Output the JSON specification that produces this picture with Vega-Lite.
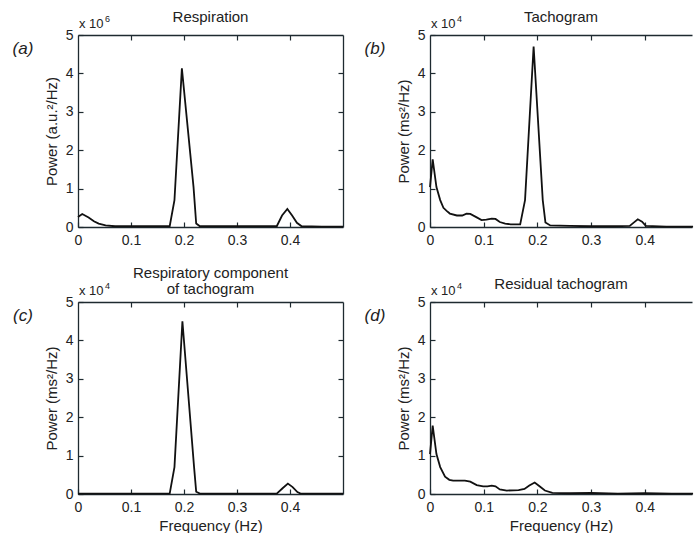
{
  "$schema": "https://vega.github.io/schema/vega-lite/v6.json",
  "background": "white",
  "padding": {"left": 12, "top": 10, "right": 0, "bottom": 0},
  "datasets": {
    "curves": [
      {"panel": "a", "f": 0, "p": 0.26}, {"panel": "a", "f": 0.008, "p": 0.34}, {"panel": "a", "f": 0.02, "p": 0.25}, {"panel": "a", "f": 0.03, "p": 0.15}, {"panel": "a", "f": 0.039, "p": 0.09}, {"panel": "a", "f": 0.052, "p": 0.04}, {"panel": "a", "f": 0.07, "p": 0.02}, {"panel": "a", "f": 0.1, "p": 0.02}, {"panel": "a", "f": 0.13, "p": 0.02}, {"panel": "a", "f": 0.16, "p": 0.02}, {"panel": "a", "f": 0.173, "p": 0.02}, {"panel": "a", "f": 0.182, "p": 0.7}, {"panel": "a", "f": 0.196, "p": 4.13}, {"panel": "a", "f": 0.218, "p": 1.04}, {"panel": "a", "f": 0.223, "p": 0.09}, {"panel": "a", "f": 0.23, "p": 0.02}, {"panel": "a", "f": 0.28, "p": 0.02}, {"panel": "a", "f": 0.33, "p": 0.02}, {"panel": "a", "f": 0.375, "p": 0.02}, {"panel": "a", "f": 0.385, "p": 0.3}, {"panel": "a", "f": 0.395, "p": 0.47}, {"panel": "a", "f": 0.404, "p": 0.3}, {"panel": "a", "f": 0.413, "p": 0.11}, {"panel": "a", "f": 0.422, "p": 0.02}, {"panel": "a", "f": 0.46, "p": 0.01}, {"panel": "a", "f": 0.5, "p": 0.01},
      {"panel": "b", "f": 0, "p": 1.04}, {"panel": "b", "f": 0.005, "p": 1.76}, {"panel": "b", "f": 0.012, "p": 1.04}, {"panel": "b", "f": 0.019, "p": 0.7}, {"panel": "b", "f": 0.025, "p": 0.5}, {"panel": "b", "f": 0.031, "p": 0.42}, {"panel": "b", "f": 0.037, "p": 0.35}, {"panel": "b", "f": 0.05, "p": 0.3}, {"panel": "b", "f": 0.06, "p": 0.3}, {"panel": "b", "f": 0.068, "p": 0.35}, {"panel": "b", "f": 0.075, "p": 0.34}, {"panel": "b", "f": 0.087, "p": 0.25}, {"panel": "b", "f": 0.096, "p": 0.18}, {"panel": "b", "f": 0.105, "p": 0.19}, {"panel": "b", "f": 0.115, "p": 0.22}, {"panel": "b", "f": 0.122, "p": 0.21}, {"panel": "b", "f": 0.13, "p": 0.13}, {"panel": "b", "f": 0.14, "p": 0.09}, {"panel": "b", "f": 0.15, "p": 0.07}, {"panel": "b", "f": 0.168, "p": 0.07}, {"panel": "b", "f": 0.177, "p": 0.7}, {"panel": "b", "f": 0.193, "p": 4.7}, {"panel": "b", "f": 0.21, "p": 0.7}, {"panel": "b", "f": 0.215, "p": 0.12}, {"panel": "b", "f": 0.224, "p": 0.04}, {"panel": "b", "f": 0.26, "p": 0.03}, {"panel": "b", "f": 0.3, "p": 0.02}, {"panel": "b", "f": 0.34, "p": 0.02}, {"panel": "b", "f": 0.372, "p": 0.03}, {"panel": "b", "f": 0.38, "p": 0.12}, {"panel": "b", "f": 0.387, "p": 0.2}, {"panel": "b", "f": 0.395, "p": 0.14}, {"panel": "b", "f": 0.402, "p": 0.03}, {"panel": "b", "f": 0.44, "p": 0.01}, {"panel": "b", "f": 0.49, "p": 0.01},
      {"panel": "c", "f": 0, "p": 0.01}, {"panel": "c", "f": 0.05, "p": 0.01}, {"panel": "c", "f": 0.1, "p": 0.01}, {"panel": "c", "f": 0.15, "p": 0.01}, {"panel": "c", "f": 0.173, "p": 0.01}, {"panel": "c", "f": 0.182, "p": 0.7}, {"panel": "c", "f": 0.197, "p": 4.5}, {"panel": "c", "f": 0.219, "p": 0.7}, {"panel": "c", "f": 0.223, "p": 0.06}, {"panel": "c", "f": 0.23, "p": 0.01}, {"panel": "c", "f": 0.3, "p": 0.01}, {"panel": "c", "f": 0.375, "p": 0.01}, {"panel": "c", "f": 0.386, "p": 0.15}, {"panel": "c", "f": 0.396, "p": 0.27}, {"panel": "c", "f": 0.405, "p": 0.18}, {"panel": "c", "f": 0.414, "p": 0.05}, {"panel": "c", "f": 0.42, "p": 0.01}, {"panel": "c", "f": 0.5, "p": 0.01},
      {"panel": "d", "f": 0, "p": 1.04}, {"panel": "d", "f": 0.005, "p": 1.78}, {"panel": "d", "f": 0.012, "p": 1.04}, {"panel": "d", "f": 0.019, "p": 0.7}, {"panel": "d", "f": 0.028, "p": 0.45}, {"panel": "d", "f": 0.036, "p": 0.37}, {"panel": "d", "f": 0.043, "p": 0.35}, {"panel": "d", "f": 0.055, "p": 0.35}, {"panel": "d", "f": 0.065, "p": 0.35}, {"panel": "d", "f": 0.075, "p": 0.32}, {"panel": "d", "f": 0.087, "p": 0.23}, {"panel": "d", "f": 0.099, "p": 0.2}, {"panel": "d", "f": 0.107, "p": 0.2}, {"panel": "d", "f": 0.115, "p": 0.22}, {"panel": "d", "f": 0.122, "p": 0.2}, {"panel": "d", "f": 0.13, "p": 0.12}, {"panel": "d", "f": 0.143, "p": 0.09}, {"panel": "d", "f": 0.165, "p": 0.1}, {"panel": "d", "f": 0.176, "p": 0.13}, {"panel": "d", "f": 0.185, "p": 0.22}, {"panel": "d", "f": 0.195, "p": 0.3}, {"panel": "d", "f": 0.204, "p": 0.2}, {"panel": "d", "f": 0.214, "p": 0.09}, {"panel": "d", "f": 0.228, "p": 0.03}, {"panel": "d", "f": 0.26, "p": 0.02}, {"panel": "d", "f": 0.3, "p": 0.03}, {"panel": "d", "f": 0.35, "p": 0.01}, {"panel": "d", "f": 0.4, "p": 0.02}, {"panel": "d", "f": 0.45, "p": 0.01}, {"panel": "d", "f": 0.49, "p": 0.01}
    ],
    "labels": [
      {"panel": "a", "f": 0, "p": 5, "tag": "(a)", "mult": "x 10", "exp": "6"},
      {"panel": "b", "f": 0, "p": 5, "tag": "(b)", "mult": "x 10", "exp": "4"},
      {"panel": "c", "f": 0, "p": 5, "tag": "(c)", "mult": "x 10", "exp": "4"},
      {"panel": "d", "f": 0, "p": 5, "tag": "(d)", "mult": "x 10", "exp": "4"}
    ]
  },
  "concat": [
    {
      "width": 265, "height": 192,
      "title": {"text": "Respiration", "offset": -10, "frame": "group"},
      "resolve": {"axis": {"x": "independent", "y": "independent"}},
      "layer": [
        {"data": {"name": "curves"}, "transform": [{"filter": "datum.panel == 'a'"}],
         "mark": {"type": "line", "color": "#111", "strokeWidth": 1.8},
         "encoding": {
           "x": {"field": "f", "type": "quantitative", "scale": {"domain": [0, 0.5], "nice": false}, "axis": {"values": [0, 0.1, 0.2, 0.3, 0.4], "format": ".1~f", "title": null}},
           "y": {"field": "p", "type": "quantitative", "scale": {"domain": [0, 5], "nice": false}, "axis": {"values": [0, 1, 2, 3, 4, 5], "format": "d", "title": "Power (a.u.²/Hz)"}}}},
        {"data": {"name": "curves"}, "transform": [{"filter": "datum.panel == 'a'"}],
         "mark": {"type": "line", "opacity": 0},
         "encoding": {
           "x": {"field": "f", "type": "quantitative", "axis": {"orient": "top", "labels": false, "title": null, "values": [0.1, 0.2, 0.3, 0.4]}},
           "y": {"field": "p", "type": "quantitative", "axis": {"orient": "right", "labels": false, "title": null, "values": [1, 2, 3, 4]}}}},
        {"data": {"name": "labels"}, "transform": [{"filter": "datum.panel == 'a'"}],
         "mark": {"type": "text", "align": "left", "baseline": "alphabetic", "dx": 1, "dy": -7, "fontSize": 13},
         "encoding": {"x": {"field": "f", "type": "quantitative", "axis": null}, "y": {"field": "p", "type": "quantitative", "axis": null}, "text": {"field": "mult"}}},
        {"data": {"name": "labels"}, "transform": [{"filter": "datum.panel == 'a'"}],
         "mark": {"type": "text", "align": "left", "baseline": "alphabetic", "dx": 27, "dy": -13, "fontSize": 9},
         "encoding": {"x": {"field": "f", "type": "quantitative", "axis": null}, "y": {"field": "p", "type": "quantitative", "axis": null}, "text": {"field": "exp"}}},
        {"data": {"name": "labels"}, "transform": [{"filter": "datum.panel == 'a'"}],
         "mark": {"type": "text", "align": "center", "baseline": "middle", "dx": -55, "dy": 14, "fontSize": 17, "fontStyle": "italic"},
         "encoding": {"x": {"field": "f", "type": "quantitative", "axis": null}, "y": {"field": "p", "type": "quantitative", "axis": null}, "text": {"field": "tag"}}}
      ]
    },
    {
      "width": 262, "height": 192,
      "title": {"text": "Tachogram", "offset": -10, "frame": "group"},
      "resolve": {"axis": {"x": "independent", "y": "independent"}},
      "layer": [
        {"data": {"name": "curves"}, "transform": [{"filter": "datum.panel == 'b'"}],
         "mark": {"type": "line", "color": "#111", "strokeWidth": 1.8},
         "encoding": {
           "x": {"field": "f", "type": "quantitative", "scale": {"domain": [0, 0.488], "nice": false}, "axis": {"values": [0, 0.1, 0.2, 0.3, 0.4], "format": ".1~f", "title": null}},
           "y": {"field": "p", "type": "quantitative", "scale": {"domain": [0, 5], "nice": false}, "axis": {"values": [0, 1, 2, 3, 4, 5], "format": "d", "title": "Power (ms²/Hz)"}}}},
        {"data": {"name": "curves"}, "transform": [{"filter": "datum.panel == 'b'"}],
         "mark": {"type": "line", "opacity": 0},
         "encoding": {
           "x": {"field": "f", "type": "quantitative", "axis": {"orient": "top", "labels": false, "title": null, "values": [0.1, 0.2, 0.3, 0.4]}},
           "y": {"field": "p", "type": "quantitative", "axis": null}}},
        {"data": {"name": "labels"}, "transform": [{"filter": "datum.panel == 'b'"}],
         "mark": {"type": "text", "align": "left", "baseline": "alphabetic", "dx": 1, "dy": -7, "fontSize": 13},
         "encoding": {"x": {"field": "f", "type": "quantitative", "axis": null}, "y": {"field": "p", "type": "quantitative", "axis": null}, "text": {"field": "mult"}}},
        {"data": {"name": "labels"}, "transform": [{"filter": "datum.panel == 'b'"}],
         "mark": {"type": "text", "align": "left", "baseline": "alphabetic", "dx": 27, "dy": -13, "fontSize": 9},
         "encoding": {"x": {"field": "f", "type": "quantitative", "axis": null}, "y": {"field": "p", "type": "quantitative", "axis": null}, "text": {"field": "exp"}}},
        {"data": {"name": "labels"}, "transform": [{"filter": "datum.panel == 'b'"}],
         "mark": {"type": "text", "align": "center", "baseline": "middle", "dx": -55, "dy": 14, "fontSize": 17, "fontStyle": "italic"},
         "encoding": {"x": {"field": "f", "type": "quantitative", "axis": null}, "y": {"field": "p", "type": "quantitative", "axis": null}, "text": {"field": "tag"}}}
      ]
    },
    {
      "width": 265, "height": 192,
      "title": {"text": ["Respiratory component", "of tachogram"], "offset": -15, "frame": "group", "lineHeight": 16},
      "resolve": {"axis": {"x": "independent", "y": "independent"}},
      "layer": [
        {"data": {"name": "curves"}, "transform": [{"filter": "datum.panel == 'c'"}],
         "mark": {"type": "line", "color": "#111", "strokeWidth": 1.8},
         "encoding": {
           "x": {"field": "f", "type": "quantitative", "scale": {"domain": [0, 0.5], "nice": false}, "axis": {"values": [0, 0.1, 0.2, 0.3, 0.4], "format": ".1~f", "title": "Frequency (Hz)"}},
           "y": {"field": "p", "type": "quantitative", "scale": {"domain": [0, 5], "nice": false}, "axis": {"values": [0, 1, 2, 3, 4, 5], "format": "d", "title": "Power (ms²/Hz)"}}}},
        {"data": {"name": "curves"}, "transform": [{"filter": "datum.panel == 'c'"}],
         "mark": {"type": "line", "opacity": 0},
         "encoding": {
           "x": {"field": "f", "type": "quantitative", "axis": {"orient": "top", "labels": false, "title": null, "values": [0.1, 0.2, 0.3, 0.4]}},
           "y": {"field": "p", "type": "quantitative", "axis": {"orient": "right", "labels": false, "title": null, "values": [1, 2, 3, 4]}}}},
        {"data": {"name": "labels"}, "transform": [{"filter": "datum.panel == 'c'"}],
         "mark": {"type": "text", "align": "left", "baseline": "alphabetic", "dx": 1, "dy": -7, "fontSize": 13},
         "encoding": {"x": {"field": "f", "type": "quantitative", "axis": null}, "y": {"field": "p", "type": "quantitative", "axis": null}, "text": {"field": "mult"}}},
        {"data": {"name": "labels"}, "transform": [{"filter": "datum.panel == 'c'"}],
         "mark": {"type": "text", "align": "left", "baseline": "alphabetic", "dx": 27, "dy": -13, "fontSize": 9},
         "encoding": {"x": {"field": "f", "type": "quantitative", "axis": null}, "y": {"field": "p", "type": "quantitative", "axis": null}, "text": {"field": "exp"}}},
        {"data": {"name": "labels"}, "transform": [{"filter": "datum.panel == 'c'"}],
         "mark": {"type": "text", "align": "center", "baseline": "middle", "dx": -55, "dy": 14, "fontSize": 17, "fontStyle": "italic"},
         "encoding": {"x": {"field": "f", "type": "quantitative", "axis": null}, "y": {"field": "p", "type": "quantitative", "axis": null}, "text": {"field": "tag"}}}
      ]
    },
    {
      "width": 262, "height": 192,
      "title": {"text": "Residual tachogram", "offset": -10, "frame": "group"},
      "resolve": {"axis": {"x": "independent", "y": "independent"}},
      "layer": [
        {"data": {"name": "curves"}, "transform": [{"filter": "datum.panel == 'd'"}],
         "mark": {"type": "line", "color": "#111", "strokeWidth": 1.8},
         "encoding": {
           "x": {"field": "f", "type": "quantitative", "scale": {"domain": [0, 0.488], "nice": false}, "axis": {"values": [0, 0.1, 0.2, 0.3, 0.4], "format": ".1~f", "title": "Frequency (Hz)"}},
           "y": {"field": "p", "type": "quantitative", "scale": {"domain": [0, 5], "nice": false}, "axis": {"values": [0, 1, 2, 3, 4, 5], "format": "d", "title": "Power (ms²/Hz)"}}}},
        {"data": {"name": "curves"}, "transform": [{"filter": "datum.panel == 'd'"}],
         "mark": {"type": "line", "opacity": 0},
         "encoding": {
           "x": {"field": "f", "type": "quantitative", "axis": {"orient": "top", "labels": false, "title": null, "values": [0.1, 0.2, 0.3, 0.4]}},
           "y": {"field": "p", "type": "quantitative", "axis": null}}},
        {"data": {"name": "labels"}, "transform": [{"filter": "datum.panel == 'd'"}],
         "mark": {"type": "text", "align": "left", "baseline": "alphabetic", "dx": 1, "dy": -7, "fontSize": 13},
         "encoding": {"x": {"field": "f", "type": "quantitative", "axis": null}, "y": {"field": "p", "type": "quantitative", "axis": null}, "text": {"field": "mult"}}},
        {"data": {"name": "labels"}, "transform": [{"filter": "datum.panel == 'd'"}],
         "mark": {"type": "text", "align": "left", "baseline": "alphabetic", "dx": 27, "dy": -13, "fontSize": 9},
         "encoding": {"x": {"field": "f", "type": "quantitative", "axis": null}, "y": {"field": "p", "type": "quantitative", "axis": null}, "text": {"field": "exp"}}},
        {"data": {"name": "labels"}, "transform": [{"filter": "datum.panel == 'd'"}],
         "mark": {"type": "text", "align": "center", "baseline": "middle", "dx": -55, "dy": 14, "fontSize": 17, "fontStyle": "italic"},
         "encoding": {"x": {"field": "f", "type": "quantitative", "axis": null}, "y": {"field": "p", "type": "quantitative", "axis": null}, "text": {"field": "tag"}}}
      ]
    }
  ],
  "columns": 2,
  "spacing": {"row": 75, "column": 87},
  "bounds": "flush",
  "config": {
    "font": "Liberation Sans",
    "view": {"stroke": null},
    "axis": {"domainColor": "#1e2a30", "domainWidth": 1.3, "tickColor": "#1e2a30", "tickSize": -5, "tickWidth": 1.2, "labelFontSize": 14, "labelColor": "#222", "labelFont": "Liberation Sans", "titleFont": "Liberation Sans", "titleFontSize": 15, "titleFontWeight": "normal", "titleColor": "#222", "grid": false, "labelFlush": false, "labelOverlap": false},
    "axisX": {"labelPadding": 11, "titlePadding": 4},
    "axisY": {"labelPadding": 10, "titlePadding": 6},
    "title": {"fontSize": 15, "fontWeight": "normal", "color": "#222", "font": "Liberation Sans"},
    "text": {"color": "#222", "font": "Liberation Sans"}
  }
}
